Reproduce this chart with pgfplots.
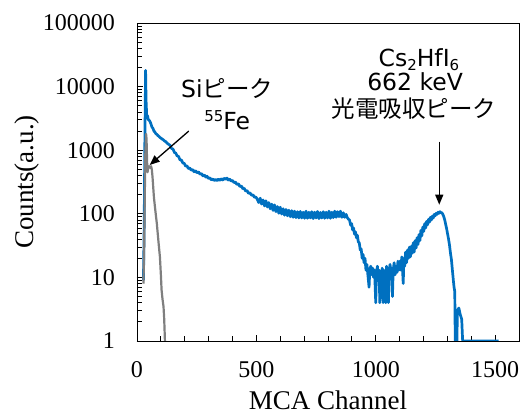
\documentclass[border=0pt]{standalone}
\usepackage{fontspec}
\setmainfont{Liberation Serif}
\newfontfamily\dv{DejaVu Sans}
\newfontfamily\jp{Noto Sans CJK JP}
\usepackage{pgfplots}
\usepackage{pgfplotstable}
\pgfplotsset{compat=1.18}
\usetikzlibrary{arrows.meta}

\definecolor{specblue}{HTML}{0070C0}
\definecolor{specgray}{HTML}{7F7F7F}

% Cs2HfI6, 137Cs source
\pgfplotstableread{
ch cnt
27 9
30 60
33 1500
36 18000
38 6000
41 3300
44 3500
47 3050
51 2950
55 2800
59 2550
63 2300
67 2200
71 2000
75 1930
79 1820
84 1760
88 1690
92 1650
96 1590
101 1540
106 1490
111 1450
116 1390
121 1360
126 1290
132 1240
139 1190
145 1060
151 1040
157 920
162 905
168 815
174 800
180 705
186 700
192 630
198 620
204 560
209 570
215 515
221 525
227 485
233 495
239 458
245 475
251 442
258 455
264 418
270 430
276 395
282 408
288 378
293 390
299 360
305 368
311 342
317 352
323 334
329 348
335 332
341 350
347 336
353 356
359 340
365 362
371 348
377 364
382 340
388 352
394 328
400 334
406 310
412 316
418 290
425 296
431 268
437 274
443 248
449 252
455 228
461 232
467 210
473 214
480 196
486 198
492 182
498 184
504 168
510 150
516 176
522 142
528 165
534 133
540 160
546 128
552 150
558 120
564 142
570 113
576 138
582 108
588 130
594 102
600 127
606 99
612 120
618 95
624 117
630 93
636 114
642 90
648 112
654 88
660 110
666 87
672 108
678 86
684 109
690 86
696 106
702 85
708 110
714 85
720 106
726 86
732 108
738 84
744 106
750 86
756 109
762 84
768 105
774 86
780 108
786 85
792 106
798 86
804 110
810 85
816 106
822 87
828 110
834 88
840 108
846 90
852 110
858 88
864 104
870 88
876 98
880 88
886 82
890 80
895 66
899 70
903 56
907 60
911 48
915 52
919 42
923 46
927 36
931 35
935 27
939 28
943 20
947 23
951 17
955 20
959 13
963 16
967 11
972 7
975 13
979 15
983 11
987 14
991 10
995 13
1000 4
1003 12
1007 15
1011 10
1014 13
1017 4
1020 12
1024 10
1027 14
1031 4
1034 13
1038 11
1042 4
1045 15
1049 12
1053 4
1056 13
1060 16
1063 11
1066 14
1070 5
1073 13
1077 17
1081 11
1085 15
1089 12
1093 18
1097 13
1101 18
1105 13
1109 21
1112 14
1115 8
1118 20
1121 15
1125 25
1129 17
1133 27
1137 20
1141 30
1145 21
1149 31
1153 24
1157 35
1161 25
1165 38
1169 29
1173 42
1177 33
1181 47
1185 38
1189 55
1193 45
1197 62
1201 53
1205 70
1209 60
1213 76
1217 67
1221 82
1225 74
1229 88
1233 80
1237 92
1241 86
1245 98
1249 93
1253 102
1257 98
1261 106
1265 102
1269 108
1273 104
1277 104
1281 98
1285 90
1289 80
1293 68
1297 58
1301 48
1305 40
1309 32
1313 24
1317 19
1321 13
1325 9
1328 7
1331 6
1333 1
1340 1
1342 3
1348 3.3
1354 2.6
1360 2.2
1364 1
1515 1
}\csdata

% Si detector, 55Fe source
\pgfplotstableread{
ch cnt
27 8
30 30
33 250
35 900
38 1800
40 1500
42 700
44 450
47 520
51 560
55 530
59 560
62 500
65 380
68 260
71 180
75 130
79 95
83 71
87 48
91 33
96 21
100 11
103 6.3
107 4.5
111 3.5
114 2.2
117 1
}\fedata

\begin{document}
\begin{tikzpicture}
\useasboundingbox (-137pt,-73pt) rectangle (387pt,341pt);
\begin{axis}[
  at={(0,0)}, anchor=south west,
  scale only axis, width=382pt, height=318pt,
  xmin=0, xmax=1600, ymin=1, ymax=100000, ymode=log,
  axis line style={line width=0.9pt},
  tick align=inside, tick pos=left,
  xtick={0,500,1000,1500}, minor x tick num=4,
  ytick={1,10,100,1000,10000,100000},
  yticklabels={1,10,100,1000,10000,100000},
  major tick length=6pt, minor tick length=5pt,
  every tick/.style={black, line width=0.8pt},
  tick label style={font=\fontsize{24}{24}\selectfont},
  /pgf/number format/assume math mode=true,
  /pgf/number format/1000 sep={},
  xticklabel style={anchor=base, inner sep=0pt, yshift=-37pt},
  yticklabel style={anchor=east, inner sep=0pt, xshift=-22pt},
  xlabel={MCA Channel}, ylabel={Counts(a.u.)},
  label style={font=\fontsize{27}{30}\selectfont},
  xlabel style={at={(axis description cs:0.5,-0.215)}, anchor=base},
  ylabel style={at={(axis description cs:-0.272,0.5)}, anchor=base},
]
\addplot[specblue, line width=2.7pt, line join=round] table[x=ch, y=cnt] {\csdata};
\addplot[specgray, line width=2.2pt, line join=round] table[x=ch, y=cnt] {\fedata};

\node[anchor=base, font=\fontsize{23.5}{24}\selectfont] at (rel axis cs:0.236,0.767) {\dv Si\jp ピーク};
\node[anchor=base, font=\fontsize{23.5}{24}\selectfont] at (rel axis cs:0.236,0.664) {\dv\raisebox{8pt}{\fontsize{15}{15}\selectfont 55}Fe};
\draw[line width=1.3pt, -{Triangle[length=10pt,width=8pt]}] (axis cs:217,2000) -- (axis cs:53,585);

\node[anchor=base, font=\fontsize{23.5}{24}\selectfont] at (rel axis cs:0.738,0.863) {\dv Cs\raisebox{-3.5pt}{\fontsize{15}{15}\selectfont 2}HfI\raisebox{-3.5pt}{\fontsize{15}{15}\selectfont 6}};
\node[anchor=base, font=\fontsize{23.5}{24}\selectfont] at (rel axis cs:0.728,0.789) {\dv 662 keV};
\node[anchor=base, font=\fontsize{23.5}{24}\selectfont] at (rel axis cs:0.725,0.704) {\jp 光電吸収ピーク};
\draw[line width=1.3pt, -{Triangle[length=10pt,width=8pt]}] (axis cs:1266,1360) -- (axis cs:1266,139);
\end{axis}
\end{tikzpicture}
\end{document}
